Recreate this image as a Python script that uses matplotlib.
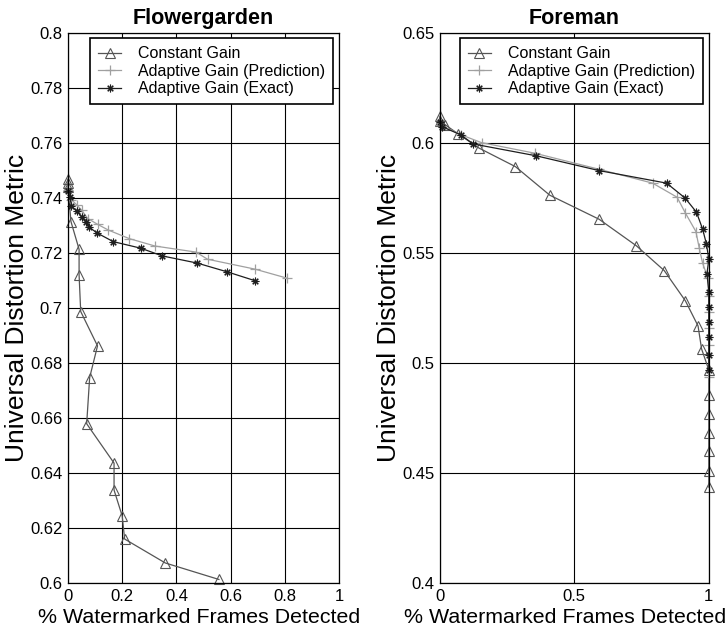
import matplotlib
matplotlib.use("Agg")
import matplotlib.pyplot as plt

plt.rcParams["font.family"] = ["Liberation Sans", "DejaVu Sans"]

# --- Flowergarden data ---
fg_const_x = [0, 0, 0, 0.011, 0.041, 0.041, 0.047, 0.109, 0.080, 0.069, 0.170, 0.170, 0.200, 0.209, 0.359, 0.557]
fg_const_y = [0.7468, 0.7453, 0.7439, 0.7314, 0.7213, 0.712, 0.6987, 0.6862, 0.6747, 0.6579, 0.6436, 0.6338, 0.6244, 0.616, 0.6073, 0.6013]
fg_pred_x = [0.0, 0.013, 0.032, 0.05, 0.073, 0.109, 0.149, 0.226, 0.321, 0.472, 0.515, 0.69, 0.809]
fg_pred_y = [0.743, 0.7393, 0.7375, 0.7356, 0.7325, 0.7304, 0.7283, 0.7252, 0.7225, 0.7203, 0.7177, 0.7141, 0.7108]
fg_exact_x = [0.0, 0.007, 0.013, 0.032, 0.05, 0.066, 0.079, 0.108, 0.167, 0.269, 0.348, 0.477, 0.588, 0.69]
fg_exact_y = [0.7425, 0.7405, 0.737, 0.7352, 0.7332, 0.7314, 0.7293, 0.7272, 0.7241, 0.7217, 0.7189, 0.7163, 0.7131, 0.7099]

# --- Foreman data ---
fm_const_x = [0, 0, 0.019, 0.068, 0.146, 0.281, 0.409, 0.592, 0.731, 0.834, 0.913, 0.960, 0.973, 1, 1, 1, 1, 1, 1, 1]
fm_const_y = [0.6121, 0.6099, 0.6083, 0.6041, 0.5976, 0.5892, 0.5762, 0.5653, 0.5532, 0.542, 0.5282, 0.5168, 0.5064,
              0.4968, 0.4855, 0.4768, 0.4682, 0.46, 0.4509, 0.4436]
fm_pred_x = [0, 0.08, 0.155, 0.353, 0.592, 0.791, 0.882, 0.912, 0.952, 0.964, 0.977, 0.997, 1, 1, 1, 1, 1]
fm_pred_y = [0.6082, 0.6036, 0.6001, 0.5953, 0.588, 0.5817, 0.5753, 0.5683, 0.5597, 0.5524, 0.5453, 0.5385,
             0.5305, 0.523, 0.516, 0.508, 0.4935]
fm_exact_x = [0, 0.007, 0.077, 0.124, 0.359, 0.592, 0.843, 0.912, 0.954, 0.977, 0.991, 1.0, 0.993, 1, 1, 1, 1, 1, 1]
fm_exact_y = [0.6095, 0.6074, 0.6037, 0.5995, 0.5941, 0.5874, 0.5817, 0.5749, 0.5685, 0.5608, 0.5541, 0.5471,
              0.5405, 0.5324, 0.5253, 0.5185, 0.5117, 0.5036, 0.4968]

labels = ["Constant Gain", "Adaptive Gain (Prediction)", "Adaptive Gain (Exact)"]

fg_xticks = [0, 0.2, 0.4, 0.6, 0.8, 1]
fg_xlabels = ["0", "0.2", "0.4", "0.6", "0.8", "1"]
fg_yticks = [0.6, 0.62, 0.64, 0.66, 0.68, 0.7, 0.72, 0.74, 0.76, 0.78, 0.8]
fg_ylabels = ["0.6", "0.62", "0.64", "0.66", "0.68", "0.7", "0.72", "0.74", "0.76", "0.78", "0.8"]
fm_xticks = [0, 0.5, 1]
fm_xlabels = ["0", "0.5", "1"]
fm_yticks = [0.4, 0.45, 0.5, 0.55, 0.6, 0.65]
fm_ylabels = ["0.4", "0.45", "0.5", "0.55", "0.6", "0.65"]

fig = plt.figure(figsize=(7.27, 6.31), dpi=100)
ax1 = fig.add_axes([0.0935, 0.076, 0.3728, 0.872])
ax2 = fig.add_axes([0.605, 0.076, 0.370, 0.872])


def draw(ax, cx, cy, px, py, ex, ey, title, xt, xl, yt, yl, ylim, xlab_pos):
    ax.plot(cx, cy, color="#555555", lw=0.9, marker="^", ms=7.5, mfc="none", mec="#555555", mew=0.8,
            label=labels[0], clip_on=False)
    ax.plot(px, py, color="#a0a0a0", lw=0.9, marker="+", ms=7, mew=0.9, label=labels[1], clip_on=False)
    ax.plot(ex, ey, color="#1e1e1e", lw=0.9, marker=(8, 2, 0), ms=5.5, mew=0.8, label=labels[2], clip_on=False)
    ax.set_xlim(0, 1)
    ax.set_ylim(*ylim)
    ax.set_xticks(xt)
    ax.set_xticklabels(xl)
    ax.set_yticks(yt)
    ax.set_yticklabels(yl)
    ax.tick_params(direction="in", length=0, labelsize=12, pad=4)
    ax.grid(True, color="black", lw=0.8)
    for s in ax.spines.values():
        s.set_linewidth(0.9)
    ax.set_title(title, fontsize=15.5, fontweight="bold", pad=6)
    ax.set_xlabel("% Watermarked Frames Detected", fontsize=15.4)
    ax.xaxis.set_label_coords(xlab_pos, -0.045, transform=ax.transAxes)
    ax.xaxis.label.set_va("top")
    ax.set_ylabel("Universal Distortion Metric", fontsize=19, labelpad=1)
    leg = ax.legend(loc="upper right", fontsize=11.5, frameon=True, fancybox=False, handlelength=1.4,
                    borderpad=0.5, labelspacing=0.15, handletextpad=1.1, borderaxespad=0.35)
    leg.get_frame().set_edgecolor("black")
    leg.get_frame().set_linewidth(1.2)
    leg.get_frame().set_alpha(1)


draw(ax1, fg_const_x, fg_const_y, fg_pred_x, fg_pred_y, fg_exact_x, fg_exact_y, "Flowergarden",
     fg_xticks, fg_xlabels, fg_yticks, fg_ylabels, (0.6, 0.8), 0.483)
draw(ax2, fm_const_x, fm_const_y, fm_pred_x, fm_pred_y, fm_exact_x, fm_exact_y, "Foreman",
     fm_xticks, fm_xlabels, fm_yticks, fm_ylabels, (0.4, 0.65), 0.465)

fig.savefig("out.png", dpi=100)
